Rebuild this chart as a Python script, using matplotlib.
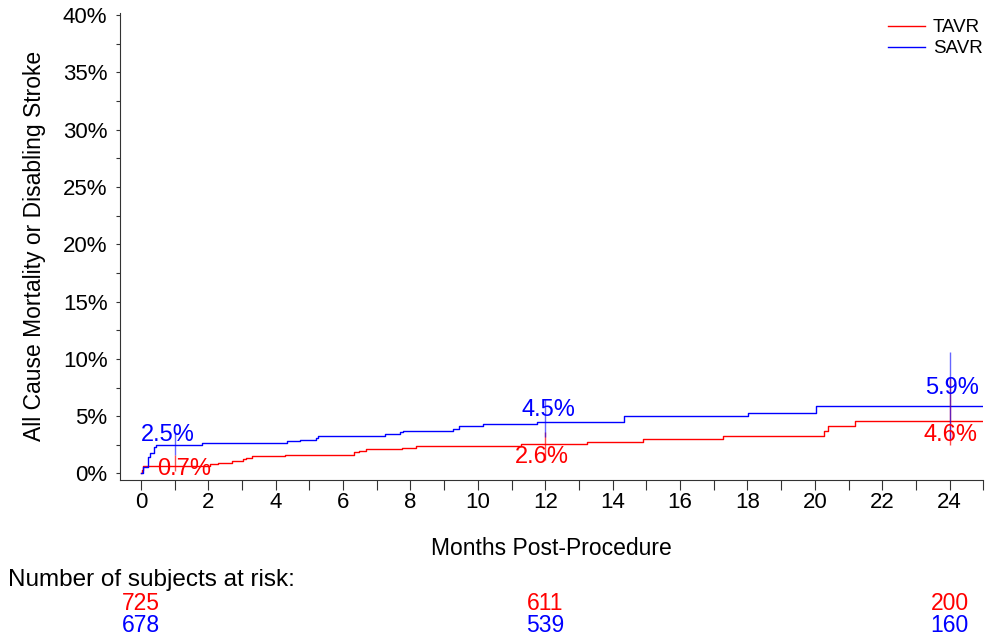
import numpy as np
import matplotlib
matplotlib.use("Agg")
import matplotlib.pyplot as plt
import matplotlib.transforms as mtransforms
from matplotlib.ticker import FixedLocator, FuncFormatter

# Kaplan-Meier style cumulative event curves (months, %)
tavr_t = [0, 0.03, 0.07, 2.06, 2.3, 2.7, 3.03, 3.12, 3.29, 4.27, 6.31, 6.46, 6.68,
          7.75, 8.15, 11.28, 13.23, 14.9, 17.27, 20.28, 20.39, 21.2, 25.0]
tavr_v = [0, 0.3, 0.66, 0.83, 0.94, 1.09, 1.24, 1.38, 1.5, 1.65, 1.85, 1.99, 2.1,
          2.24, 2.41, 2.57, 2.78, 3.01, 3.28, 3.67, 4.1, 4.6, 4.6]

savr_t = [0, 0.07, 0.2, 0.27, 0.4, 0.45, 1.81, 4.33, 4.72, 5.2, 5.27, 7.23, 7.7,
          7.79, 9.27, 9.45, 10.16, 11.75, 14.34, 18.02, 20.03, 25.0]
savr_v = [0.05, 0.6, 1.4, 1.8, 2.3, 2.5, 2.69, 2.8, 2.96, 3.12, 3.24, 3.42, 3.6,
          3.73, 3.9, 4.1, 4.29, 4.47, 5.02, 5.3, 5.9, 5.9]

# estimates and confidence intervals at landmark months
ci_months = [1, 12, 24]
tavr_est = ["0.7%", "2.6%", "4.6%"]
savr_est = ["2.5%", "4.5%", "5.9%"]
tavr_lo = [0.2, 1.2, 2.5]
tavr_hi = [1.6, 3.6, 8.4]
savr_lo = [1.6, 3.2, 2.9]
savr_hi = [3.6, 6.5, 10.6]

# number at risk
risk_months = [0, 12, 24]
tavr_risk = [725, 611, 200]
savr_risk = [678, 539, 160]

RED = "#ff0000"
BLUE = "#0000ff"

plt.rcParams['font.family'] = ['Liberation Sans', 'DejaVu Sans']

fig = plt.figure(figsize=(9.95, 6.39), dpi=100)
ax = fig.add_axes([120 / 995, 1 - 480 / 639, (983.3 - 120) / 995, (480 - 12.7) / 639])

ax.step(tavr_t, tavr_v, where='post', color=RED, lw=1.0, label='TAVR')
ax.step(savr_t, savr_v, where='post', color=BLUE, lw=1.0, label='SAVR')

ax.vlines(ci_months, tavr_lo, tavr_hi, color=RED, lw=1.0, alpha=0.7)
ax.vlines(ci_months, savr_lo, savr_hi, color=BLUE, lw=1.0, alpha=0.6)

# label anchors (layout only)
savr_lbl_pos = [(0.81, 3.36), (12.09, 5.5), (24.07, 7.46)]
tavr_lbl_pos = [(1.28, 0.39), (11.91, 1.44), (24.04, 3.36)]
for (x, y), s in zip(savr_lbl_pos, savr_est):
    ax.text(x, y, s, color=BLUE, fontsize=17, ha='center', va='center')
for (x, y), s in zip(tavr_lbl_pos, tavr_est):
    ax.text(x, y, s, color=RED, fontsize=17, ha='center', va='center')

ax.set_xlim(-0.62, 25.0)
ax.set_ylim(-0.57, 40.2)

ax.xaxis.set_major_locator(FixedLocator(np.arange(0, 25, 2)))
ax.xaxis.set_minor_locator(FixedLocator(np.arange(1, 26, 2)))
ax.yaxis.set_major_locator(FixedLocator(np.arange(0, 41, 5)))
ax.yaxis.set_minor_locator(FixedLocator(np.arange(2.5, 40, 5)))
ax.yaxis.set_major_formatter(FuncFormatter(lambda v, p: f"{v:.0f}%"))

ax.tick_params(axis='x', which='both', direction='out', length=7, width=0.8,
               labelsize=16, pad=2, color='#333333')
ax.tick_params(axis='y', which='both', direction='out', length=3, width=0.8,
               labelsize=16, pad=6, color='#333333')

for side in ['top', 'right']:
    ax.spines[side].set_visible(False)
for side in ['left', 'bottom']:
    ax.spines[side].set_color('#333333')
    ax.spines[side].set_linewidth(0.8)

ax.set_xlabel("Months Post-Procedure", fontsize=16.5, labelpad=17)
ax.set_ylabel("All Cause Mortality or Disabling Stroke", fontsize=16.5, labelpad=12)

ax.legend(loc='upper right', bbox_to_anchor=(1.012, 1.01), frameon=False, fontsize=13.5,
          handlelength=2.0, handletextpad=0.4, labelspacing=0.2, borderaxespad=0.2)

# risk table below the axes
trans = mtransforms.blended_transform_factory(ax.transData, fig.transFigure)
fig.text(8 / 995, 1 - 580 / 639, "Number of subjects at risk:", fontsize=17.5,
         ha='left', va='center')
for m, r, s in zip(risk_months, tavr_risk, savr_risk):
    ax.text(m, 1 - 604 / 639, str(r), color=RED, fontsize=16.5, ha='center', va='center',
            transform=trans, clip_on=False)
    ax.text(m, 1 - 625 / 639, str(s), color=BLUE, fontsize=16.5, ha='center', va='center',
            transform=trans, clip_on=False)

fig.savefig("out.png", dpi=100)
